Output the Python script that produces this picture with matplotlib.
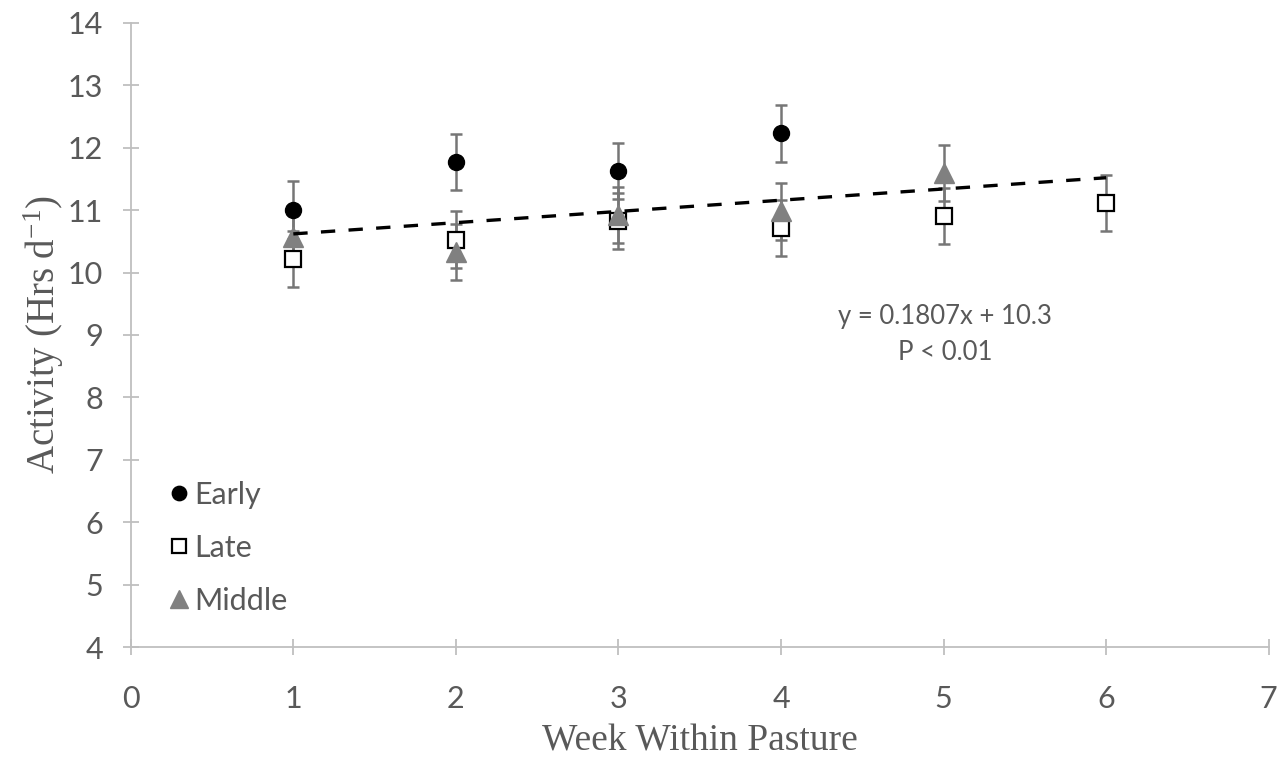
import numpy as np
import matplotlib.pyplot as plt

# Data
weeks_early = [1, 2, 3, 4]
early = [11.0, 11.77, 11.63, 12.23]
early_err = [0.46, 0.45, 0.45, 0.46]

weeks_late = [1, 2, 3, 4, 5, 6]
late = [10.22, 10.53, 10.83, 10.72, 10.91, 11.11]
late_err = [0.45, 0.46, 0.45, 0.45, 0.45, 0.45]

weeks_middle = [1, 2, 3, 4, 5]
middle = [10.57, 10.33, 10.92, 10.98, 11.59]
middle_err = [0.45, 0.45, 0.45, 0.45, 0.45]

# trend line as drawn (end points)
trend_x = [1, 6]
trend_y = [10.62, 11.52]

plt.rcParams['mathtext.fontset'] = 'custom'
plt.rcParams['mathtext.rm'] = 'Liberation Serif'
plt.rcParams['mathtext.it'] = 'Liberation Serif:italic'

tick_font = 'Lato'
grey_txt = '#595959'
err_col = '#767676'

fig = plt.figure(figsize=(12.82, 7.58), dpi=100)
ax = fig.add_axes([0.102, 0.1464, 0.8876, 0.8233])

eb = dict(fmt='none', ecolor=err_col, elinewidth=1.8, capsize=4.5, capthick=1.8, zorder=2)
ax.errorbar(weeks_early, early, yerr=early_err, **eb)
ax.errorbar(weeks_late, late, yerr=late_err, **eb)
ax.errorbar(weeks_middle, middle, yerr=middle_err, **eb)

ax.plot(weeks_early, early, 'o', color='black', markersize=11.5, linestyle='none', zorder=3, label='Early')
ax.plot(weeks_late, late, 's', markerfacecolor='white', markeredgecolor='black', markeredgewidth=1.6,
        markersize=11.5, linestyle='none', zorder=4, label='Late')
ax.plot(weeks_middle, middle, '^', color='#808080', markersize=14, linestyle='none', zorder=5, label='Middle')

ax.plot(trend_x, trend_y, color='black', linewidth=2.4, linestyle=(0, (4.3, 4.0)), zorder=6)

ax.text(5.01, 9.0, 'y = 0.1807x + 10.3\nP < 0.01', ha='center', va='center', fontsize=18.5,
        color=grey_txt, family=tick_font, linespacing=1.55)

ax.set_xlim(0, 7)
ax.set_ylim(4, 14)
ax.set_xticks(range(0, 8))
ax.set_yticks(range(4, 15))

for s in ['top', 'right']:
    ax.spines[s].set_visible(False)
for s in ['left', 'bottom']:
    ax.spines[s].set_color('#BFBFBF')
    ax.spines[s].set_linewidth(1.3)

ax.tick_params(direction='inout', length=12, width=1.3, color='#BFBFBF',
               labelsize=22, labelcolor=grey_txt)
ax.tick_params(axis='x', pad=21)
ax.tick_params(axis='y', pad=14)
for lab in ax.get_xticklabels() + ax.get_yticklabels():
    lab.set_family(tick_font)

ax.set_xlabel('Week Within Pasture', family='Liberation Serif', fontsize=27, color=grey_txt, labelpad=8)
ax.set_ylabel('Activity (Hrs d$^{\\mathrm{-1}}$)', family='Liberation Serif', fontsize=28,
              color=grey_txt, labelpad=1)

leg = ax.legend(loc='upper left', bbox_to_anchor=(0.005, 0.31), frameon=False,
                prop={'family': tick_font, 'size': 22}, handletextpad=0.0,
                labelspacing=0.82, handlelength=1.0, markerscale=0.9)
for t in leg.get_texts():
    t.set_color(grey_txt)

fig.savefig('out.png', dpi=100)
